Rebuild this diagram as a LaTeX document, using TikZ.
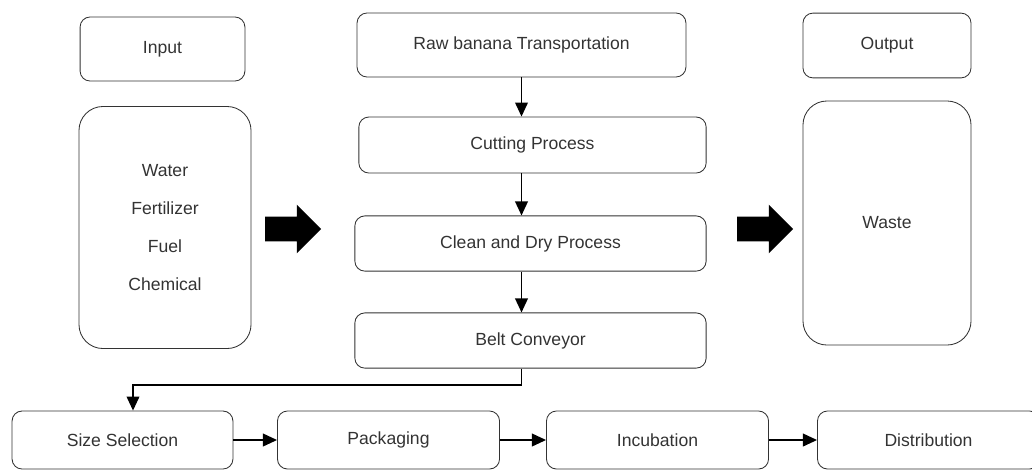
\documentclass[tikz,border=0pt]{standalone}
\usepackage{fontspec}
\setmainfont{Liberation Sans}
\usetikzlibrary{arrows.meta,shapes.arrows}
\definecolor{txtgray}{HTML}{333333}

\begin{document}
\begin{tikzpicture}[x=0.025cm, y=-0.025cm]
   \tikzstyle{every node}=[font=\fontsize{12.5}{15}\selectfont, text=txtgray]
   \tikzstyle{box}=[draw=txtgray, line width=0.6pt, rounded corners=0.25cm, inner sep=0pt]
   \tikzstyle{tallbox}=[box, rounded corners=0.6cm, minimum width=4.3cm, minimum height=6.05cm]
   \tikzstyle{rowbox}=[box, minimum width=5.55cm, minimum height=1.45cm]
   \tikzstyle{arr}=[line width=1.2pt, -{Triangle[length=10pt, width=9pt]}]
   \tikzstyle{bigarrow}=[single arrow, fill=black, draw=none, minimum height=1.4cm, inner xsep=0pt, inner ysep=0.3cm, single arrow head extend=0.3cm]

   \useasboundingbox (0,0) rectangle (1032,470);

   % side columns
   \node[box, minimum width=4.12cm, minimum height=1.6cm] (input) at (162.5,49) {Input};
   \node[tallbox, align=center, font=\fontsize{12.5}{26.8}\selectfont] (inlist) at (165,227.5) {Water\\Fertilizer\\Fuel\\Chemical};
   \node[box, minimum width=4.2cm, minimum height=1.62cm] (output) at (887,45.5) {Output};
   \node[tallbox, minimum width=4.2cm, minimum height=6.1cm] (waste) at (887,223) {Waste};

   % middle column
   \node[box, minimum width=8.22cm, minimum height=1.6cm] (raw) at (521.5,45) {Raw banana Transportation};
   \node[box, minimum width=8.68cm, minimum height=1.4cm] (cut) at (532.5,145) {Cutting Process};
   \node[box, minimum width=8.78cm, minimum height=1.38cm] (clean) at (530.5,243.5) {Clean and Dry Process};
   \node[box, minimum width=8.78cm, minimum height=1.38cm] (belt) at (530.5,340.5) {Belt Conveyor};

   % bottom row
   \node[rowbox, minimum width=5.52cm] (size) at (122.5,440) {Size Selection};
   \node[rowbox] (pack) at (388.5,440) {Packaging};
   \node[rowbox] (incub) at (657.5,440) {Incubation};
   \node[rowbox] (dist) at (928.5,440) {Distribution};

   % block arrows
   \node[bigarrow] (inarr) at (287,229) {};
   \node[bigarrow] (outarr) at (759,229) {};

   % connectors
   \coordinate (turn) at (133,385);
   \draw[arr] (raw.south) -- (raw.south |- cut.north);
   \draw[arr] (cut.south -| raw.south) -- (raw.south |- clean.north);
   \draw[arr] (clean.south -| raw.south) -- (raw.south |- belt.north);
   \draw[arr] (belt.south -| raw.south) |- (turn) -- (turn |- size.north);
   \draw[arr] (size.east) -- (pack.west);
   \draw[arr] (pack.east) -- (incub.west);
   \draw[arr] (incub.east) -- (dist.west);
\end{tikzpicture}
\end{document}
